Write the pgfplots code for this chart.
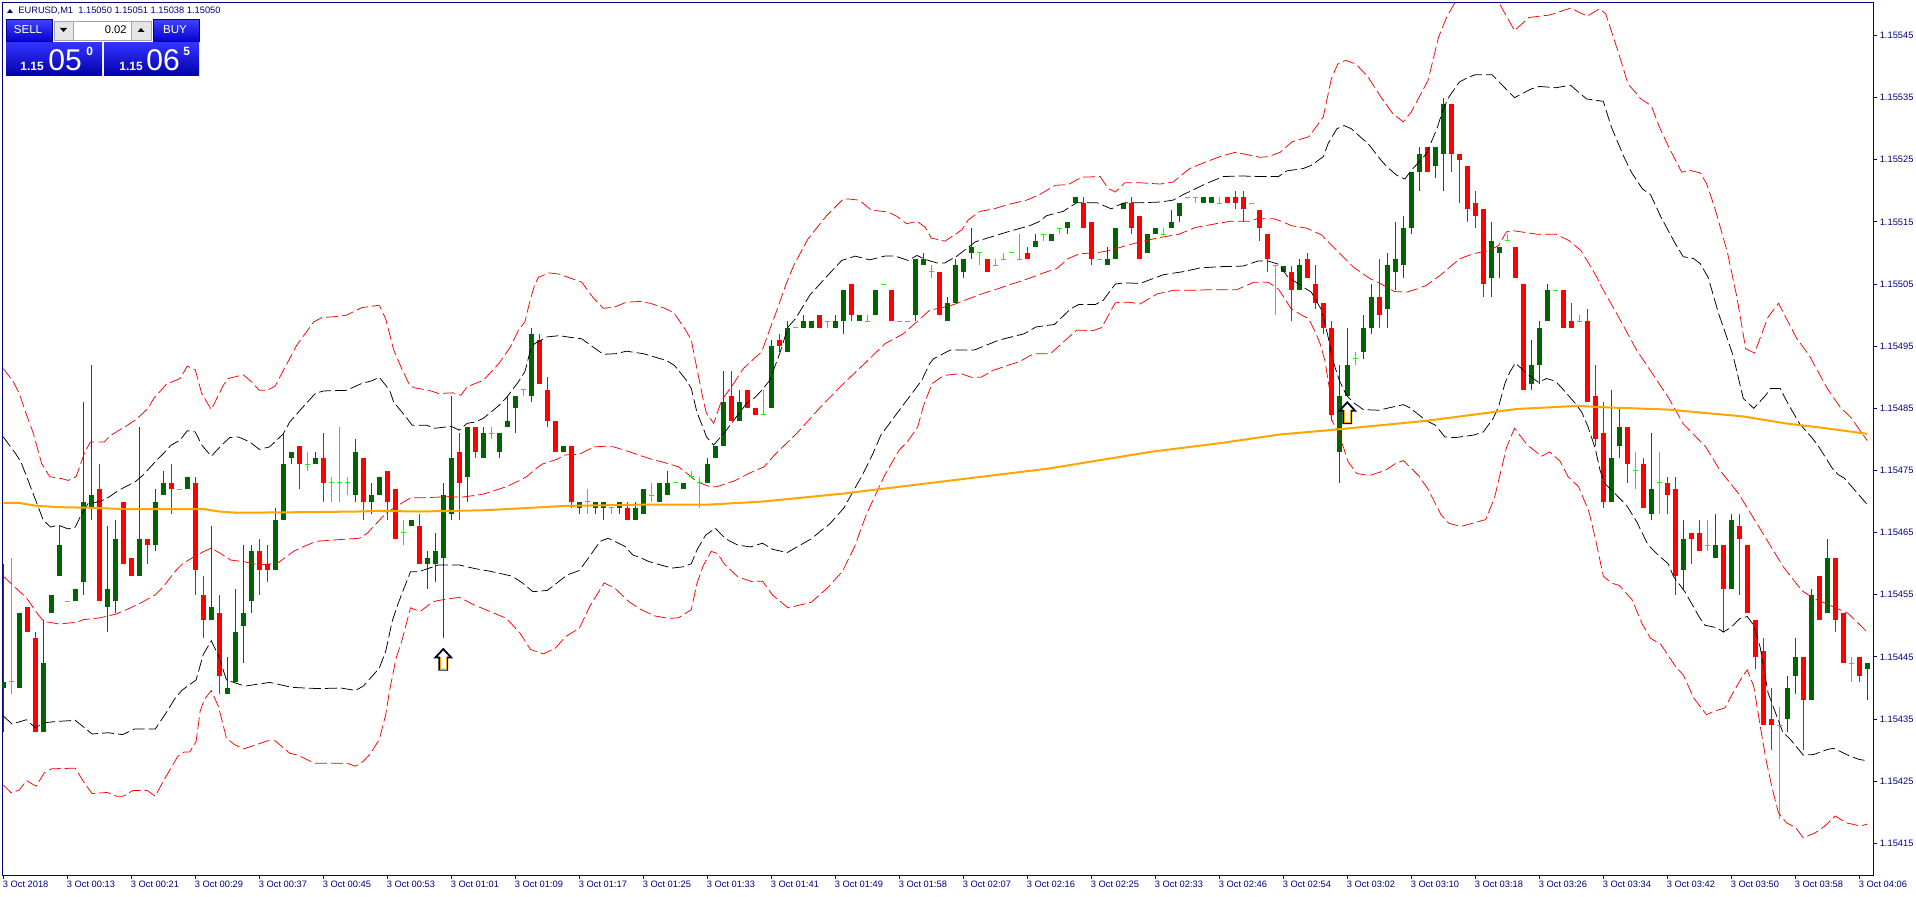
\documentclass[border=0pt]{standalone}
\usepackage{fontspec}
\setmainfont{Liberation Sans}
\usepackage{pgfplots}
\usepackage{pgfplotstable}
\pgfplotsset{compat=1.18}

\definecolor{frame}{HTML}{000080}
\definecolor{upc}{HTML}{006400}
\definecolor{dnc}{HTML}{FF0000}
\definecolor{doji}{HTML}{00FF00}
\definecolor{ma}{HTML}{FFA500}

% candles: i open high low close
\pgfplotstableread{
i o h l c
0 1.15440 1.15460 1.15433 1.15441
2 1.15440 1.15452 1.15440 1.15452
5 1.15433 1.15451 1.15433 1.15444
6 1.15452 1.15455 1.15452 1.15455
7 1.15458 1.15466 1.15458 1.15463
9 1.15454 1.15456 1.15454 1.15456
10 1.15457 1.15486 1.15455 1.15470
11 1.15469 1.15492 1.15467 1.15471
13 1.15453 1.15466 1.15449 1.15456
14 1.15454 1.15467 1.15452 1.15464
17 1.15458 1.15482 1.15458 1.15464
19 1.15463 1.15472 1.15462 1.15470
20 1.15471 1.15475 1.15471 1.15473
23 1.15472 1.15474 1.15472 1.15474
26 1.15451 1.15466 1.15451 1.15453
28 1.15439 1.15445 1.15439 1.15440
29 1.15441 1.15456 1.15441 1.15449
30 1.15450 1.15463 1.15444 1.15452
31 1.15454 1.15463 1.15452 1.15462
34 1.15459 1.15469 1.15459 1.15467
35 1.15467 1.15481 1.15467 1.15476
36 1.15477 1.15478 1.15476 1.15478
39 1.15476 1.15478 1.15476 1.15477
44 1.15471 1.15480 1.15470 1.15478
46 1.15470 1.15473 1.15468 1.15471
47 1.15471 1.15474 1.15471 1.15474
51 1.15466 1.15467 1.15466 1.15467
53 1.15460 1.15462 1.15456 1.15461
54 1.15460 1.15465 1.15457 1.15462
55 1.15461 1.15473 1.15448 1.15471
56 1.15468 1.15487 1.15467 1.15477
58 1.15474 1.15482 1.15470 1.15482
60 1.15477 1.15482 1.15477 1.15481
62 1.15478 1.15481 1.15477 1.15481
63 1.15482 1.15487 1.15482 1.15483
64 1.15485 1.15487 1.15481 1.15487
66 1.15487 1.15498 1.15486 1.15497
70 1.15478 1.15479 1.15478 1.15479
72 1.15469 1.15470 1.15468 1.15470
74 1.15469 1.15470 1.15468 1.15470
75 1.15469 1.15470 1.15467 1.15470
77 1.15469 1.15470 1.15468 1.15470
79 1.15467 1.15470 1.15467 1.15469
80 1.15468 1.15472 1.15468 1.15472
82 1.15470 1.15473 1.15470 1.15473
83 1.15471 1.15475 1.15471 1.15473
85 1.15472 1.15473 1.15472 1.15473
88 1.15473 1.15477 1.15473 1.15476
89 1.15477 1.15479 1.15477 1.15479
90 1.15479 1.15491 1.15479 1.15486
92 1.15483 1.15488 1.15483 1.15486
96 1.15485 1.15496 1.15485 1.15495
98 1.15494 1.15499 1.15494 1.15498
100 1.15498 1.15500 1.15498 1.15499
101 1.15498 1.15499 1.15498 1.15499
104 1.15498 1.15500 1.15498 1.15499
105 1.15499 1.15504 1.15497 1.15504
107 1.15499 1.15500 1.15499 1.15500
109 1.15500 1.15504 1.15500 1.15504
114 1.15500 1.15509 1.15499 1.15509
115 1.15508 1.15510 1.15508 1.15509
118 1.15499 1.15503 1.15499 1.15502
119 1.15502 1.15509 1.15502 1.15508
120 1.15507 1.15509 1.15506 1.15509
121 1.15510 1.15514 1.15509 1.15511
129 1.15511 1.15513 1.15511 1.15512
131 1.15512 1.15513 1.15512 1.15513
133 1.15514 1.15515 1.15513 1.15515
134 1.15518 1.15519 1.15518 1.15519
138 1.15508 1.15511 1.15508 1.15509
139 1.15509 1.15514 1.15509 1.15514
140 1.15517 1.15518 1.15517 1.15518
143 1.15510 1.15513 1.15510 1.15513
144 1.15513 1.15514 1.15513 1.15514
146 1.15514 1.15517 1.15514 1.15515
147 1.15516 1.15518 1.15515 1.15518
150 1.15518 1.15519 1.15518 1.15519
151 1.15518 1.15519 1.15518 1.15519
160 1.15507 1.15508 1.15507 1.15508
162 1.15504 1.15509 1.15504 1.15508
167 1.15478 1.15492 1.15473 1.15487
168 1.15487 1.15498 1.15487 1.15492
170 1.15494 1.15500 1.15493 1.15498
171 1.15498 1.15505 1.15497 1.15503
173 1.15501 1.15510 1.15498 1.15508
174 1.15507 1.15515 1.15504 1.15509
175 1.15508 1.15516 1.15506 1.15514
176 1.15514 1.15523 1.15513 1.15523
177 1.15523 1.15527 1.15520 1.15526
179 1.15524 1.15527 1.15522 1.15527
180 1.15526 1.15535 1.15520 1.15534
186 1.15506 1.15515 1.15503 1.15512
187 1.15510 1.15511 1.15506 1.15511
191 1.15489 1.15496 1.15488 1.15492
192 1.15492 1.15499 1.15489 1.15498
193 1.15499 1.15505 1.15499 1.15504
201 1.15470 1.15488 1.15470 1.15477
202 1.15479 1.15485 1.15477 1.15482
206 1.15468 1.15481 1.15467 1.15472
210 1.15459 1.15467 1.15456 1.15464
214 1.15461 1.15468 1.15461 1.15463
216 1.15456 1.15468 1.15456 1.15467
223 1.15435 1.15442 1.15433 1.15440
224 1.15442 1.15448 1.15439 1.15445
226 1.15438 1.15456 1.15438 1.15455
228 1.15452 1.15464 1.15452 1.15461
233 1.15443 1.15444 1.15438 1.15444
}\upT

\pgfplotstableread{
i o h l c
3 1.15453 1.15453 1.15449 1.15449
4 1.15448 1.15449 1.15433 1.15433
12 1.15472 1.15476 1.15454 1.15454
15 1.15470 1.15470 1.15460 1.15460
16 1.15461 1.15461 1.15458 1.15458
18 1.15464 1.15464 1.15460 1.15463
21 1.15473 1.15476 1.15468 1.15472
24 1.15473 1.15474 1.15455 1.15459
25 1.15455 1.15458 1.15448 1.15451
27 1.15452 1.15455 1.15439 1.15442
32 1.15462 1.15464 1.15455 1.15459
33 1.15460 1.15463 1.15457 1.15459
37 1.15479 1.15479 1.15472 1.15476
40 1.15477 1.15481 1.15470 1.15473
45 1.15477 1.15477 1.15467 1.15470
48 1.15475 1.15475 1.15467 1.15470
49 1.15472 1.15472 1.15464 1.15464
52 1.15466 1.15468 1.15460 1.15460
57 1.15478 1.15481 1.15467 1.15473
59 1.15482 1.15482 1.15477 1.15478
67 1.15496 1.15497 1.15489 1.15489
68 1.15488 1.15490 1.15482 1.15483
69 1.15483 1.15483 1.15478 1.15478
71 1.15479 1.15479 1.15469 1.15470
78 1.15469 1.15470 1.15467 1.15467
91 1.15487 1.15491 1.15483 1.15483
93 1.15488 1.15488 1.15485 1.15485
94 1.15485 1.15485 1.15484 1.15484
97 1.15496 1.15497 1.15494 1.15495
102 1.15500 1.15500 1.15498 1.15498
106 1.15505 1.15505 1.15499 1.15500
111 1.15504 1.15504 1.15499 1.15499
117 1.15507 1.15507 1.15500 1.15500
123 1.15509 1.15509 1.15507 1.15507
128 1.15510 1.15511 1.15509 1.15509
135 1.15518 1.15519 1.15514 1.15514
136 1.15515 1.15515 1.15508 1.15509
141 1.15518 1.15519 1.15513 1.15514
142 1.15516 1.15516 1.15509 1.15509
153 1.15519 1.15519 1.15518 1.15518
154 1.15519 1.15520 1.15517 1.15518
155 1.15519 1.15520 1.15515 1.15517
157 1.15517 1.15517 1.15512 1.15514
158 1.15513 1.15513 1.15507 1.15509
161 1.15507 1.15508 1.15499 1.15504
163 1.15509 1.15510 1.15506 1.15506
164 1.15505 1.15508 1.15501 1.15502
165 1.15502 1.15502 1.15497 1.15498
166 1.15498 1.15499 1.15483 1.15484
172 1.15503 1.15509 1.15498 1.15500
178 1.15527 1.15527 1.15523 1.15523
181 1.15534 1.15534 1.15523 1.15526
182 1.15526 1.15526 1.15518 1.15525
183 1.15524 1.15524 1.15515 1.15517
184 1.15518 1.15520 1.15514 1.15516
185 1.15517 1.15517 1.15503 1.15505
189 1.15511 1.15511 1.15506 1.15506
190 1.15505 1.15505 1.15488 1.15488
195 1.15504 1.15504 1.15498 1.15498
196 1.15499 1.15502 1.15498 1.15498
198 1.15499 1.15501 1.15486 1.15486
199 1.15487 1.15492 1.15479 1.15480
200 1.15481 1.15486 1.15469 1.15470
203 1.15482 1.15482 1.15473 1.15476
205 1.15476 1.15477 1.15469 1.15469
208 1.15473 1.15474 1.15468 1.15471
209 1.15472 1.15474 1.15455 1.15458
211 1.15465 1.15465 1.15460 1.15464
212 1.15465 1.15467 1.15462 1.15462
215 1.15463 1.15463 1.15449 1.15456
217 1.15466 1.15468 1.15455 1.15464
218 1.15463 1.15463 1.15452 1.15452
219 1.15451 1.15451 1.15443 1.15445
220 1.15446 1.15448 1.15434 1.15434
221 1.15435 1.15440 1.15430 1.15434
225 1.15445 1.15445 1.15430 1.15438
227 1.15458 1.15458 1.15451 1.15451
229 1.15461 1.15461 1.15449 1.15451
230 1.15452 1.15452 1.15444 1.15444
232 1.15445 1.15445 1.15441 1.15442
}\dnT

% open = close bars: i price high low
\pgfplotstableread{
i p h l
1 1.15441 1.15461 1.15439
8 1.15454 1.15454 1.15454
22 1.15472 1.15472 1.15472
38 1.15476 1.15478 1.15475
41 1.15473 1.15474 1.15470
42 1.15473 1.15482 1.15470
43 1.15473 1.15474 1.15471
50 1.15465 1.15467 1.15463
61 1.15481 1.15482 1.15480
65 1.15488 1.15488 1.15487
73 1.15470 1.15472 1.15468
76 1.15469 1.15469 1.15468
81 1.15471 1.15473 1.15470
84 1.15473 1.15473 1.15473
86 1.15474 1.15475 1.15474
87 1.15473 1.15474 1.15469
95 1.15484 1.15488 1.15484
99 1.15498 1.15498 1.15498
103 1.15499 1.15499 1.15498
108 1.15499 1.15500 1.15499
110 1.15505 1.15505 1.15505
112 1.15499 1.15499 1.15499
113 1.15499 1.15499 1.15499
116 1.15507 1.15508 1.15506
122 1.15510 1.15510 1.15508
124 1.15508 1.15509 1.15508
125 1.15509 1.15510 1.15509
126 1.15510 1.15510 1.15510
127 1.15509 1.15513 1.15509
130 1.15513 1.15513 1.15512
132 1.15514 1.15514 1.15513
137 1.15509 1.15509 1.15509
145 1.15513 1.15514 1.15513
148 1.15519 1.15519 1.15519
149 1.15519 1.15519 1.15518
152 1.15518 1.15519 1.15518
156 1.15518 1.15518 1.15518
159 1.15508 1.15508 1.15500
169 1.15493 1.15494 1.15492
188 1.15512 1.15513 1.15512
194 1.15504 1.15504 1.15504
197 1.15499 1.15500 1.15499
204 1.15475 1.15478 1.15472
207 1.15473 1.15478 1.15468
213 1.15463 1.15467 1.15462
222 1.15434 1.15437 1.15419
231 1.15444 1.15445 1.15441
}\dojiT

% open arrow marker, drawn round the data point
\pgfdeclareplotmark{hollowup}{%
  \pgfsetlinewidth{.9pt}%
  \pgfsetstrokecolor{black!85!blue}%
  \pgfsetfillcolor{white}%
  \pgfpathmoveto{\pgfqpoint{0pt}{5.2pt}}%
  \pgfpathlineto{\pgfqpoint{3.9pt}{1pt}}%
  \pgfpathlineto{\pgfqpoint{2pt}{1pt}}%
  \pgfpathlineto{\pgfqpoint{2pt}{-5.2pt}}%
  \pgfpathlineto{\pgfqpoint{-2pt}{-5.2pt}}%
  \pgfpathlineto{\pgfqpoint{-2pt}{1pt}}%
  \pgfpathlineto{\pgfqpoint{-3.9pt}{1pt}}%
  \pgfpathclose
  \pgfusepathqfillstroke
  \pgfsetlinewidth{.3pt}%
  \pgfsetstrokecolor{ma}%
  \pgfpathmoveto{\pgfqpoint{1.6pt}{1.4pt}}%
  \pgfpathlineto{\pgfqpoint{1.6pt}{-4.8pt}}%
  \pgfpathlineto{\pgfqpoint{-1.6pt}{-4.8pt}}%
  \pgfpathlineto{\pgfqpoint{-1.6pt}{1.4pt}}%
  \pgfusepathqstroke
}

\pgfplotsset{
  wick/.style={draw=none,mark=none,
    error bars/y dir=plus,error bars/y explicit,error bars/error mark=none,
    error bars/error bar style={line width=.5pt,solid,color=#1}},
  body/.style={draw=none,mark=none,
    error bars/y dir=plus,error bars/y explicit,error bars/error mark=none,
    error bars/error bar style={line width=2.6pt,solid,color=#1}},
  band/.style={#1,line width=.38pt,mark=none,dash pattern=on 6pt off 2pt},
}

\begin{document}
\begin{tikzpicture}
\useasboundingbox[fill=white] (0,0) rectangle (958pt,448pt);
\begin{axis}[
    at={(1.25pt,10.35pt)},anchor=south west,
    scale only axis,width=935.55pt,height=436.15pt,
    xmin=-0.1,xmax=233.79,ymin=1.1540986,ymax=1.1555023,
    axis line style={frame,line width=.5pt},
    tick style={frame,line width=.5pt},
    tick align=outside,major tick length=1.6pt,
    xtick pos=bottom,ytick pos=right,
    xtick={0,8,...,232},
    xticklabels={3 Oct 2018,3 Oct 00:13,3 Oct 00:21,3 Oct 00:29,3 Oct 00:37,3 Oct 00:45,3 Oct 00:53,3 Oct 01:01,3 Oct 01:09,3 Oct 01:17,3 Oct 01:25,3 Oct 01:33,3 Oct 01:41,3 Oct 01:49,3 Oct 01:58,3 Oct 02:07,3 Oct 02:16,3 Oct 02:25,3 Oct 02:33,3 Oct 02:46,3 Oct 02:54,3 Oct 03:02,3 Oct 03:10,3 Oct 03:18,3 Oct 03:26,3 Oct 03:34,3 Oct 03:42,3 Oct 03:50,3 Oct 03:58,3 Oct 04:06},
    ytick={1.15415,1.15425,1.15435,1.15445,1.15455,1.15465,1.15475,1.15485,1.15495,1.15505,1.15515,1.15525,1.15535,1.15545},
    yticklabels={1.15415,1.15425,1.15435,1.15445,1.15455,1.15465,1.15475,1.15485,1.15495,1.15505,1.15515,1.15525,1.15535,1.15545},
    scaled y ticks=false,
    x tick label style={font=\fontsize{4.65}{5}\selectfont,text=frame,anchor=north west,inner sep=0pt,xshift=-.4pt,yshift=-1pt},
    y tick label style={font=\fontsize{4.65}{5}\selectfont,text=frame,anchor=west,inner sep=0pt,xshift=1.3pt},
  ]
% candle wicks and bodies
\addplot[wick=upc] table[x=i,y=l,y error expr=\thisrow{h}-\thisrow{l}] {\upT};
\addplot[wick=dnc] table[x=i,y=l,y error expr=\thisrow{h}-\thisrow{l}] {\dnT};
\addplot[wick=doji] table[x=i,y=l,y error expr=\thisrow{h}-\thisrow{l}] {\dojiT};
\addplot[body=upc] table[x=i,y=o,y error expr=\thisrow{c}-\thisrow{o}] {\upT};
\addplot[body=dnc] table[x=i,y=c,y error expr=\thisrow{o}-\thisrow{c}] {\dnT};
\addplot[only marks,mark=-,mark size=1.25pt,mark options={doji,line width=.5pt}] table[x=i,y=p] {\dojiT};

% outer upper band
\addplot[band=dnc] coordinates {(0,1.154914)(1.25,1.154893)(2,1.154874)(2.7,1.154847)(3.75,1.15481)(4.8,1.154761)(5.8,1.15474)(7.3,1.154737)(8.1,1.154734)(9.1,1.15474)(10.2,1.15478)(10.9,1.154796)(12.6,1.154796)(13.5,1.154807)(15.4,1.154822)(16.5,1.154831)(18.1,1.15485)(18.8,1.154866)(20.4,1.154889)(22.1,1.154898)(23,1.154918)(24,1.154912)(24.8,1.154874)(26,1.154848)(27.5,1.154887)(28.1,1.154898)(30,1.154904)(31,1.154893)(32,1.154879)(33,1.154879)(34,1.154886)(35,1.154911)(36.7,1.154952)(38.8,1.154989)(39.8,1.154996)(41.9,1.154998)(42.9,1.155)(44.8,1.155012)(47,1.155016)(47.8,1.154994)(48.8,1.154944)(49.8,1.154914)(50.8,1.154887)(51.4,1.154883)(53.2,1.154879)(54.4,1.154874)(56.2,1.154875)(57.2,1.154871)(58,1.154885)(59,1.15489)(60,1.154895)(62,1.154923)(63.4,1.154949)(64.4,1.154976)(65.2,1.154989)(65.7,1.155016)(66.4,1.155048)(66.9,1.155061)(68.2,1.155068)(69.5,1.155066)(71,1.155059)(72.3,1.155053)(73.8,1.155027)(75,1.155011)(76.4,1.155013)(77.9,1.155021)(79.6,1.155022)(80.9,1.155019)(82.7,1.155011)(83.8,1.155004)(85.2,1.154978)(86,1.15496)(86.5,1.154927)(87.5,1.154863)(87.9,1.154842)(88.8,1.154826)(89.8,1.154863)(91.3,1.15489)(92.5,1.154914)(94,1.154932)(94.8,1.154941)(95.6,1.15497)(96.7,1.155008)(97.7,1.155045)(98.8,1.15508)(100.6,1.155123)(102.9,1.15516)(105,1.155187)(105.6,1.155187)(107,1.155185)(108.5,1.155169)(110.6,1.155166)(111.7,1.155159)(112.9,1.155147)(114.2,1.155151)(115.2,1.155142)(116,1.155124)(117.7,1.155119)(119.8,1.155137)(120.6,1.155153)(122.1,1.155167)(123.8,1.155171)(125.6,1.155178)(127.9,1.155185)(129.4,1.155193)(131.5,1.155209)(133.1,1.15521)(134.8,1.155222)(137.1,1.155223)(138.1,1.155204)(139,1.155198)(140.2,1.155213)(142.1,1.155213)(144.6,1.155211)(146.2,1.155214)(148.3,1.155236)(150.2,1.155246)(152.3,1.155256)(154,1.155262)(155.2,1.155259)(157.1,1.155254)(158.1,1.155255)(159.6,1.155262)(161.1,1.155279)(163.2,1.155287)(165,1.155319)(166,1.15538)(166.8,1.155404)(167.8,1.15541)(169.1,1.155404)(170.6,1.155383)(172.2,1.155351)(173.7,1.155324)(175,1.155311)(176,1.155327)(178.1,1.155378)(179.4,1.155447)(180.4,1.155479)(181.5,1.155504)(183.5,1.15552)(186.9,1.155504)(188.9,1.155458)(190.7,1.155479)(193.3,1.155483)(195.9,1.155494)(198,1.155481)(199.5,1.155493)(200.3,1.155485)(201.8,1.155426)(203.1,1.155372)(204.7,1.155348)(206,1.155337)(207,1.155303)(208.2,1.15527)(209.8,1.15523)(210.8,1.155233)(212.1,1.155229)(212.9,1.155212)(213.9,1.155174)(215.5,1.155102)(216.7,1.155029)(217.8,1.154946)(218.9,1.154939)(220.6,1.154997)(221.9,1.155019)(224.2,1.154962)(225.7,1.154936)(228,1.154882)(229.6,1.154852)(230.9,1.154836)(233,1.154798)};

% upper band
\addplot[band=black] coordinates {(0,1.154804)(1.6,1.154776)(2.2,1.154764)(3.1,1.154734)(4.2,1.154697)(5,1.15467)(5.9,1.154659)(6.9,1.154662)(8.1,1.154656)(9,1.154659)(9.6,1.154675)(10.6,1.154697)(12.1,1.1547)(13.3,1.154708)(14.4,1.154718)(16.5,1.154732)(17.5,1.154743)(19.2,1.154767)(20,1.154777)(21,1.154791)(22.1,1.154799)(23,1.154814)(24,1.154812)(24.8,1.154791)(26,1.154773)(27.3,1.154791)(28.3,1.154803)(29.4,1.154804)(30.8,1.154796)(32,1.154784)(33.3,1.154788)(35,1.154809)(35.8,1.154828)(37.1,1.154847)(39,1.154874)(40,1.154878)(42.9,1.154879)(44.8,1.15489)(46,1.154894)(47,1.1549)(48.3,1.154879)(48.8,1.15486)(50.4,1.154835)(51.1,1.154823)(52.9,1.154823)(53.9,1.154818)(56,1.154821)(57,1.154815)(58,1.154826)(59,1.154828)(60,1.154834)(62,1.154855)(63,1.154869)(64.4,1.154893)(65.2,1.154909)(65.9,1.154944)(66.4,1.154954)(68,1.154965)(69.5,1.154967)(71,1.154964)(72.3,1.154962)(73.8,1.154948)(75,1.154937)(76.6,1.154938)(77.9,1.154942)(80,1.154938)(80.8,1.154935)(82.9,1.154927)(83.9,1.154919)(85.4,1.154895)(86,1.154882)(86.7,1.154844)(87.5,1.154818)(87.9,1.154804)(88.8,1.154791)(90.4,1.154815)(91.5,1.154834)(92.9,1.154858)(94,1.154868)(94.8,1.154879)(95.8,1.154895)(97.1,1.15494)(98.1,1.154981)(99,1.154994)(100.2,1.155019)(100.8,1.155032)(102.7,1.155059)(104.8,1.155088)(105.5,1.155091)(106.5,1.155095)(108.3,1.155089)(110.2,1.155095)(111.5,1.155095)(113.1,1.155088)(114.2,1.155096)(115.4,1.155089)(116.7,1.155084)(117.7,1.155084)(119.2,1.155095)(121.5,1.155118)(123.5,1.155126)(125.8,1.155135)(128.3,1.155144)(129.4,1.15515)(130.4,1.15516)(132.5,1.155167)(133.3,1.155174)(134.2,1.155181)(136.7,1.155181)(138.5,1.155171)(139.4,1.155177)(140.2,1.155181)(142.4,1.155181)(144.6,1.155182)(146.2,1.155185)(147.5,1.155194)(148.8,1.155202)(150.4,1.155212)(152.5,1.155223)(154.6,1.155224)(157.3,1.155223)(159.4,1.155223)(160.4,1.155232)(162.5,1.155236)(163.5,1.155241)(165,1.155255)(165.6,1.155276)(166.7,1.1553)(167.6,1.155305)(168.5,1.1553)(169.7,1.155286)(170.6,1.155276)(172.3,1.155248)(173.1,1.155237)(174.2,1.155225)(175.2,1.155219)(176,1.155233)(177.9,1.15526)(179.2,1.1553)(180,1.155332)(180.7,1.155351)(182,1.155375)(183,1.155382)(184,1.155387)(186.1,1.155387)(188.2,1.155359)(188.9,1.15535)(191,1.155364)(192,1.155368)(194.1,1.155366)(195.9,1.15537)(196.9,1.155359)(197.9,1.155348)(200,1.155344)(201,1.155303)(202.6,1.155254)(203.6,1.155228)(204.9,1.155203)(205.9,1.155194)(207.2,1.155158)(209,1.155115)(210,1.155094)(211.3,1.155091)(212.1,1.155083)(213.1,1.155061)(214.4,1.155003)(216.2,1.154936)(217.5,1.154866)(218.8,1.15485)(220.3,1.154871)(220.9,1.154882)(222.1,1.154882)(223.2,1.154855)(224.5,1.154826)(226,1.154804)(226.8,1.154791)(228.6,1.154754)(229.4,1.154743)(230.1,1.154738)(231.2,1.154722)(233,1.154695)};

% inner red line
\addplot[band=dnc] coordinates {(0,1.15458)(1.9,1.154557)(2.9,1.154545)(4.3,1.154519)(5.1,1.154507)(7,1.154503)(9.3,1.154506)(10,1.15451)(12.1,1.154513)(14.1,1.154519)(15.9,1.154529)(17.2,1.154537)(19,1.15455)(20,1.154563)(21.5,1.154588)(22.5,1.154601)(24.1,1.154613)(25.1,1.15462)(26,1.154625)(27.1,1.154617)(28.4,1.154606)(30.2,1.154603)(32,1.154598)(34.3,1.154601)(36.3,1.15462)(37.6,1.154628)(39.1,1.154636)(42.2,1.154639)(44.5,1.154641)(45.5,1.154649)(47.8,1.154681)(49.1,1.154692)(50.9,1.154706)(52.4,1.154706)(55.7,1.154708)(57.2,1.154707)(59,1.15471)(60,1.154712)(61.2,1.154717)(62.9,1.154724)(64.4,1.154733)(65.4,1.15474)(66.5,1.154752)(67.3,1.15476)(69.2,1.154768)(70.2,1.154775)(72,1.154776)(73.8,1.154788)(75.2,1.154789)(76.3,1.154788)(78.3,1.15478)(79.4,1.154775)(81.3,1.154767)(82.3,1.154764)(84.4,1.154756)(85.4,1.154746)(86.7,1.154732)(88.3,1.154724)(89.2,1.154724)(90.4,1.154729)(91.5,1.154734)(93.3,1.154746)(95.1,1.154756)(96.4,1.154775)(99.2,1.15481)(102,1.15485)(104.8,1.154887)(107.9,1.154925)(110.2,1.154954)(112.5,1.15497)(114.6,1.154994)(115.8,1.155008)(117.3,1.155012)(118.8,1.155017)(120.8,1.155027)(122.7,1.155036)(124.2,1.155042)(125.8,1.155049)(127.5,1.155056)(128.8,1.155062)(130,1.155068)(131.7,1.155075)(133.1,1.155091)(134.6,1.155099)(136.5,1.1551)(138.3,1.155104)(140.4,1.155112)(142.1,1.155118)(144.6,1.155125)(146.9,1.15513)(149,1.155141)(151.1,1.155146)(153.4,1.155151)(155.8,1.155151)(156.7,1.155155)(158.8,1.155155)(159.8,1.155151)(161,1.155144)(162.9,1.15514)(164.8,1.155129)(165.6,1.155118)(167.7,1.155091)(168.8,1.155077)(170.8,1.155059)(172.1,1.155051)(173.9,1.155038)(175.4,1.155037)(176.7,1.155042)(177.9,1.155048)(179.6,1.155064)(180.6,1.155075)(182.1,1.155091)(183.8,1.155099)(185.8,1.155104)(186.9,1.155112)(187.9,1.155134)(188.7,1.155136)(191.8,1.15513)(194.1,1.15513)(195.7,1.15512)(197.2,1.155104)(198.2,1.155083)(199.2,1.155061)(199.8,1.155045)(201.7,1.155002)(204.2,1.154943)(206.3,1.154903)(208.2,1.154866)(210,1.154825)(212.8,1.154788)(214.6,1.15475)(216.9,1.154713)(218.8,1.154673)(220.6,1.154635)(222.5,1.154595)(224.8,1.154557)(226.3,1.154544)(228,1.154535)(230.6,1.15452)(233,1.15449)};

% lower band
\addplot[band=black] coordinates {(0,1.154355)(1.1,1.154342)(2.9,1.154349)(4,1.154336)(5.1,1.154344)(6.5,1.154346)(9,1.154348)(11.1,1.154326)(13.1,1.154328)(14.9,1.154325)(16.4,1.154334)(19,1.154334)(20.2,1.154357)(21.5,1.154384)(22.3,1.154396)(24.1,1.154413)(25,1.154454)(26,1.154476)(26.9,1.154452)(27.9,1.154413)(30.2,1.154403)(33.3,1.154409)(36.1,1.154401)(39.4,1.154399)(42.2,1.1544)(44,1.154396)(45,1.154403)(47,1.154432)(47.8,1.154459)(48.6,1.154507)(49.3,1.154534)(50.1,1.154561)(50.9,1.154587)(51.9,1.154587)(54.4,1.154598)(57,1.154598)(59,1.154592)(60.8,1.154588)(63.6,1.15458)(64.9,1.154569)(66.2,1.154555)(68,1.154557)(69.5,1.154572)(70.5,1.154582)(72,1.154589)(73.3,1.154612)(74.6,1.154636)(75.6,1.154641)(77.7,1.154628)(78.7,1.154614)(79.6,1.15461)(80.6,1.154604)(81.6,1.1546)(83.6,1.154593)(85,1.154595)(86,1.1546)(86.7,1.154622)(87.8,1.154646)(89,1.154657)(90.3,1.15464)(91.8,1.15463)(93.4,1.154627)(94.9,1.154633)(96.2,1.154623)(98,1.154618)(99.2,1.154627)(101,1.15464)(102.3,1.154654)(103.3,1.154664)(105.1,1.15469)(105.6,1.154702)(107.4,1.154743)(108.7,1.154777)(109.7,1.154807)(112,1.154847)(114.8,1.154895)(115.8,1.154922)(116.3,1.15493)(118.4,1.154944)(121.4,1.154944)(124.5,1.15496)(127.6,1.15497)(129.1,1.154981)(131.4,1.154985)(133.4,1.15501)(134.4,1.155017)(136.5,1.155017)(137.5,1.155024)(139,1.15505)(140.1,1.155052)(142.1,1.155051)(145,1.155065)(147.5,1.15507)(149.6,1.155076)(152.1,1.155078)(155,1.155079)(156.8,1.155087)(158.1,1.155087)(159.4,1.155082)(160.6,1.155061)(161.7,1.155052)(162.5,1.155045)(163.5,1.155037)(164.8,1.155008)(165.6,1.154965)(166.2,1.154927)(167,1.154895)(167.9,1.154871)(168.9,1.154858)(170,1.154848)(171.9,1.154847)(175,1.154856)(175.8,1.154851)(177.9,1.15483)(179,1.154823)(180.2,1.154804)(181.5,1.154803)(183.8,1.154807)(185,1.154812)(186.2,1.154833)(186.9,1.154852)(187.7,1.15489)(188.3,1.154908)(189,1.154923)(189.6,1.154916)(190.8,1.154902)(191.9,1.154892)(192.9,1.154898)(194,1.154894)(194.8,1.154883)(196.5,1.154858)(197.3,1.154844)(198.1,1.15482)(199,1.154785)(199.6,1.15475)(200.2,1.154729)(201.9,1.154707)(202.9,1.154694)(204.2,1.154667)(205.6,1.15463)(206.7,1.154616)(208.1,1.1546)(208.8,1.154579)(210.2,1.154555)(212,1.154514)(212.7,1.154501)(214.2,1.154497)(215,1.15449)(215.9,1.154497)(217.1,1.154512)(218,1.154515)(218.8,1.154501)(219.6,1.154466)(220.6,1.154392)(222.4,1.15433)(223.4,1.154317)(225,1.154292)(226.3,1.154293)(228,1.154301)(228.8,1.154303)(230.9,1.15429)(232,1.154285)(233,1.154283)};

% outer lower band
\addplot[band=dnc] coordinates {(0,1.154244)(1,1.154231)(2,1.154236)(2.9,1.154251)(4.1,1.154242)(5.1,1.154263)(6,1.15427)(9,1.154271)(10,1.15425)(11.1,1.15423)(13,1.154232)(14.1,1.154226)(15,1.154226)(16.2,1.154235)(18,1.154235)(19,1.154226)(20,1.15425)(21.8,1.15429)(22.6,1.154297)(23.3,1.154297)(24.1,1.154314)(24.6,1.154362)(25.1,1.154381)(26,1.154396)(26.9,1.15437)(27.9,1.154319)(28.9,1.154309)(30,1.154302)(31.7,1.154309)(33,1.154315)(34,1.154315)(35.8,1.154295)(36.8,1.154292)(38.9,1.154279)(43,1.154279)(44,1.154274)(45,1.154282)(45.8,1.154293)(47,1.154317)(47.8,1.154357)(48.3,1.154397)(49.1,1.154448)(49.8,1.154475)(50.9,1.154529)(52.1,1.154523)(53.7,1.154539)(54.9,1.154542)(57,1.154546)(58.8,1.154534)(61.6,1.154519)(62.9,1.154512)(64.6,1.154488)(65.9,1.154462)(67.5,1.154455)(69,1.154464)(70.3,1.154483)(72,1.154496)(73.3,1.154531)(75.1,1.154569)(76.4,1.154561)(78.2,1.154539)(79.6,1.154527)(81.4,1.154516)(83.2,1.154512)(84.4,1.154513)(86,1.154526)(86.7,1.154568)(87.5,1.154597)(88.5,1.15462)(89.3,1.154616)(90.1,1.1546)(91.8,1.154579)(93.6,1.154571)(94.9,1.154572)(96.2,1.154549)(98.1,1.154529)(101,1.154538)(103.1,1.154562)(104.9,1.154588)(106.4,1.154627)(107.9,1.15468)(108.7,1.154702)(110.2,1.154743)(112,1.154783)(113,1.154796)(114.3,1.15482)(115,1.154853)(116.1,1.15489)(117.6,1.154903)(119.7,1.154906)(121,1.1549)(122.2,1.1549)(123.7,1.154911)(125.5,1.154919)(127,1.154925)(128.8,1.154938)(130.9,1.154938)(132.7,1.154959)(134.2,1.154976)(136.2,1.154975)(137.3,1.15498)(139,1.15502)(140.6,1.155021)(142.1,1.155018)(144.2,1.155034)(146.3,1.15504)(148.3,1.15504)(151.2,1.155041)(154.2,1.155041)(156.3,1.155053)(158.1,1.155053)(159.4,1.155042)(160.2,1.155026)(161,1.15501)(162.3,1.155)(163.2,1.154994)(164.2,1.154967)(164.6,1.154954)(165.2,1.154927)(165.8,1.154879)(166,1.154833)(166.7,1.154815)(167.5,1.154788)(168.1,1.154764)(169.2,1.154745)(170.8,1.154742)(172.7,1.15475)(174,1.154761)(175,1.154766)(175.8,1.154756)(176.9,1.154742)(178.1,1.15472)(179.7,1.154679)(180.7,1.154665)(182.2,1.15466)(185.3,1.154671)(186.4,1.154706)(187.9,1.154787)(188.9,1.154818)(190.5,1.154791)(191,1.154786)(192.3,1.154773)(193.3,1.15478)(194.6,1.154765)(195.6,1.15474)(196.9,1.154724)(198.2,1.154684)(199,1.154641)(200,1.15458)(201,1.154569)(202,1.154565)(203.6,1.154542)(204.9,1.154502)(205.9,1.15448)(207.2,1.15447)(209,1.154435)(210,1.154421)(211.3,1.154384)(212.9,1.154357)(213.9,1.154363)(215.2,1.154368)(216.2,1.154392)(217.5,1.154421)(218,1.154429)(218.8,1.154403)(219.6,1.15434)(220.3,1.154287)(221.1,1.154239)(221.9,1.154199)(222.9,1.154183)(224,1.154176)(225,1.154159)(226.5,1.154167)(227.6,1.154177)(229,1.154194)(230.4,1.154183)(232.1,1.154178)(233,1.154181)};

% moving average
\addplot[ma,line width=1pt,mark=none] coordinates {(0,1.154698)(1.9,1.154698)(4.2,1.154693)(7.1,1.154691)(11,1.15469)(15,1.154688)(25,1.154688)(27,1.154684)(29.2,1.154682)(38,1.154683)(44.2,1.154684)(47,1.154685)(52,1.154684)(60,1.154686)(63.1,1.154688)(70.2,1.154693)(79.6,1.154695)(88,1.154695)(94.9,1.1547)(105.1,1.154713)(115.3,1.154729)(130.6,1.154753)(143.4,1.15478)(152.1,1.154794)(159.6,1.154808)(166.7,1.154816)(177.9,1.15483)(189.2,1.154849)(196.9,1.154854)(199.5,1.154852)(208.2,1.154848)(214.9,1.15484)(217.5,1.154837)(222.7,1.154826)(227.8,1.154818)(233,1.154809)};

% signal arrows
\addplot[only marks,mark=hollowup] coordinates {(55,1.154446)(168,1.154843)};
\end{axis}

% title line and trade panel, in reference pixels from the top left
\begin{scope}[shift={(0,448pt)},x=.5pt,y=-.5pt]
\fill[frame] (7,13) -- (13,13) -- (10,9) -- cycle;
\node[anchor=west,inner sep=0pt,text=frame,font=\fontsize{4.65}{5}\selectfont] at (18,11) {EURUSD,M1\ \ 1.15050 1.15051 1.15038 1.15050};
\shade[top color=blue!75!white,bottom color=blue!80!black] (6,20) rectangle (52,42);
\shade[top color=blue!75!white,bottom color=blue!80!black] (153,20) rectangle (199,42);
\draw[blue!70!white,line width=.4pt] (10,42) -- (48,42) (157,42) -- (195,42);
\draw[frame,line width=.5pt] (6,20) rectangle (52,42) (153,20) rectangle (199,42);
\shade[top color=blue!80!white,bottom color=blue!65!black] (6,43) rectangle (102,76);
\shade[top color=blue!80!white,bottom color=blue!65!black] (104,43) rectangle (199,76);
\fill[black!10] (54,21) rectangle (73,40) (131,21) rectangle (151,40);
\draw[black!35,line width=.4pt] (54,21) rectangle (151,40) (73,21) -- (73,40) (131,21) -- (131,40);
\fill[black] (60,28) -- (67,28) -- (63.5,32) -- cycle;
\fill[black] (137.5,32) -- (144.5,32) -- (141,28) -- cycle;
\node[anchor=east,inner sep=0pt,font=\fontsize{5.6}{6}\selectfont] at (127,30) {0.02};
\node[text=white,inner sep=0pt,font=\fontsize{5.8}{6}\selectfont] at (28,30) {SELL};
\node[text=white,inner sep=0pt,font=\fontsize{5.8}{6}\selectfont] at (175,30) {BUY};
\node[text=white,anchor=west,inner sep=0pt,font=\fontsize{6}{7}\bfseries\selectfont] at (20,66) {1.15};
\node[text=white,anchor=west,inner sep=0pt,font=\fontsize{15}{16}\selectfont] at (48,60) {05};
\node[text=white,anchor=west,inner sep=0pt,font=\fontsize{6}{7}\bfseries\selectfont] at (86,51) {0};
\node[text=white,anchor=west,inner sep=0pt,font=\fontsize{6}{7}\bfseries\selectfont] at (119,66) {1.15};
\node[text=white,anchor=west,inner sep=0pt,font=\fontsize{15}{16}\selectfont] at (146,60) {06};
\node[text=white,anchor=west,inner sep=0pt,font=\fontsize{6}{7}\bfseries\selectfont] at (183,51) {5};
\end{scope}
\end{tikzpicture}
\end{document}
